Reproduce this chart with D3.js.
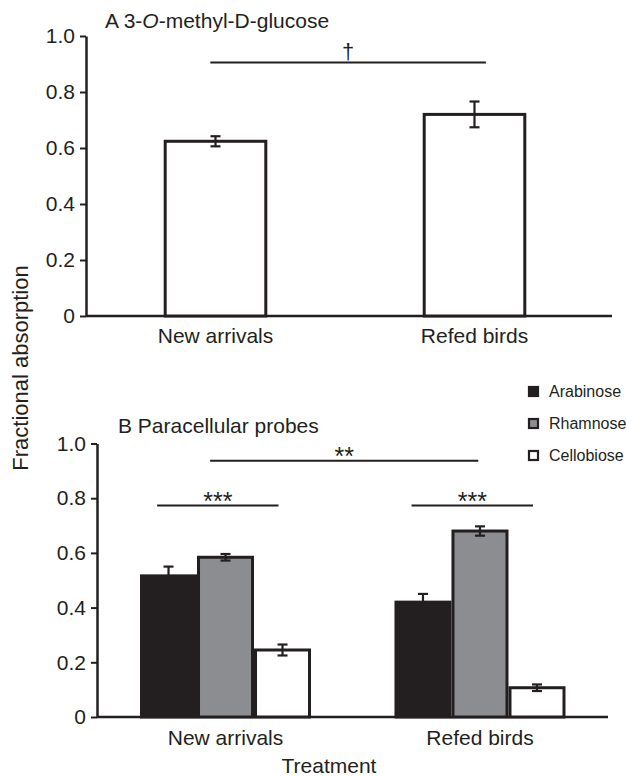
<!DOCTYPE html>
<html>
<head>
<meta charset="utf-8">
<script src="https://cdnjs.cloudflare.com/ajax/libs/d3/7.8.5/d3.min.js"></script>
<style>
    body { margin: 0; background: #fff; }
    svg { display: block; }
    text { font-family: Arial, "Liberation Sans", Helvetica, sans-serif; fill: #231f20; }
</style>
</head>
<body>
<svg id="chart" width="626" height="776"></svg>
<script>
var treatments = ["New arrivals", "Refed birds"];
var yTicks = [0, 0.2, 0.4, 0.6, 0.8, 1.0];

// panel A: 3-O-methyl-D-glucose
var glucoseMean = [0.624, 0.72];
var glucoseSE = [0.018, 0.046];

// panel B: paracellular probes
var probes = ["Arabinose", "Rhamnose", "Cellobiose"];
var probeFills = ["#231f20", "#8c8d90", "#ffffff"];
var arabinoseMean = [0.516, 0.42];
var arabinoseSE = [0.034, 0.03];
var rhamnoseMean = [0.584, 0.68];
var rhamnoseSE = [0.012, 0.017];
var cellobioseMean = [0.245, 0.107];
var cellobioseSE = [0.02, 0.012];

var INK = "#231f20";
var FS = 21;
var svg = d3.select("#chart");

var tickFormat = function (d) {
    return d === 0 ? "0" : d3.format(".1f")(d);
};

function drawYAxis(g, y) {
    var ax = g.append("g").call(d3.axisLeft(y).tickValues(yTicks).tickSize(6).tickSizeOuter(0).tickPadding(5).tickFormat(tickFormat));
    ax.select(".domain").attr("stroke", INK).attr("stroke-width", 2.5);
    ax.selectAll(".tick line").attr("stroke", INK).attr("stroke-width", 2);
    ax.selectAll(".tick text").attr("font-size", FS).style("fill", INK).attr("font-family", null);
    return ax;
}

function drawErrorBars(g, data, xFn, y, capHalf) {
    var eb = g.selectAll(null).data(data).enter().append("g").attr("class", "errbar");
    eb.append("line")
        .attr("x1", xFn).attr("x2", xFn)
        .attr("y1", function (d) { return y(d.mean + d.se); })
        .attr("y2", function (d) { return y(d.mean - d.se); })
        .attr("stroke", INK).attr("stroke-width", 2.2);
    [1, -1].forEach(function (s) {
        eb.append("line")
            .attr("x1", function (d, i) { return xFn(d, i) - capHalf; })
            .attr("x2", function (d, i) { return xFn(d, i) + capHalf; })
            .attr("y1", function (d) { return y(d.mean + s * d.se); })
            .attr("y2", function (d) { return y(d.mean + s * d.se); })
            .attr("stroke", INK).attr("stroke-width", 2.2);
    });
}

function drawSig(g, x1, x2, yy, label, size, dy) {
    g.append("line").attr("x1", x1).attr("x2", x2).attr("y1", yy).attr("y2", yy)
        .attr("stroke", INK).attr("stroke-width", 2);
    g.append("text").attr("x", (x1 + x2) / 2).attr("y", yy + dy).attr("text-anchor", "middle")
        .attr("font-size", size).text(label);
}

/* ---------- Panel A ---------- */
var gA = svg.append("g").attr("transform", "translate(86,0)");
var yA = d3.scaleLinear().domain([0, 1]).range([316, 36]);
var xA = d3.scaleBand().domain(treatments).range([0, 518]).paddingInner(0.6).paddingOuter(0.3);

var dataA = treatments.map(function (t, i) {
    return { cat: t, mean: glucoseMean[i], se: glucoseSE[i] };
});

gA.append("line").attr("x1", 0).attr("x2", 526).attr("y1", yA(0)).attr("y2", yA(0))
    .attr("stroke", INK).attr("stroke-width", 2.5);

gA.selectAll("rect.bar").data(dataA).enter().append("rect")
    .attr("class", "bar")
    .attr("x", function (d) { return xA(d.cat) + 1.5; })
    .attr("width", xA.bandwidth() - 3)
    .attr("y", function (d) { return yA(d.mean); })
    .attr("height", function (d) { return yA(0) - yA(d.mean); })
    .attr("fill", "#fff").attr("stroke", INK).attr("stroke-width", 3);

drawErrorBars(gA, dataA, function (d) { return xA(d.cat) + xA.bandwidth() / 2; }, yA, 5);
drawYAxis(gA, yA);

var xAx = gA.append("g").attr("transform", "translate(0," + yA(0) + ")")
    .call(d3.axisBottom(xA).tickSize(0).tickPadding(12));
xAx.select(".domain").remove();
xAx.selectAll(".tick text").attr("font-size", FS).style("fill", INK).attr("font-family", null);

drawSig(gA, xA(treatments[0]) + xA.bandwidth() * 0.45, xA(treatments[1]) + xA.bandwidth() * 0.61, yA(0.905), "\u2020", 22, -4);

var titleA = svg.append("text").attr("x", 105).attr("y", 28).attr("font-size", FS);
titleA.append("tspan").text("A 3-");
titleA.append("tspan").attr("font-style", "italic").text("O");
titleA.append("tspan").text("-methyl-D-glucose");

/* ---------- Panel B ---------- */
var gB = svg.append("g").attr("transform", "translate(97,0)");
var yB = d3.scaleLinear().domain([0, 1]).range([717, 443.5]);
var x0 = d3.scaleBand().domain(treatments).range([0, 511.5]).paddingInner(0.328).paddingOuter(0.169);
var x1 = d3.scaleBand().domain(probes).range([0, x0.bandwidth()]);
var color = d3.scaleOrdinal().domain(probes).range(probeFills);

var probeMeans = { Arabinose: arabinoseMean, Rhamnose: rhamnoseMean, Cellobiose: cellobioseMean };
var probeSEs = { Arabinose: arabinoseSE, Rhamnose: rhamnoseSE, Cellobiose: cellobioseSE };

var dataB = [];
treatments.forEach(function (t, i) {
    probes.forEach(function (p) {
        dataB.push({ cat: t, probe: p, mean: probeMeans[p][i], se: probeSEs[p][i] });
    });
});

gB.append("line").attr("x1", 0).attr("x2", 511).attr("y1", yB(0)).attr("y2", yB(0))
    .attr("stroke", INK).attr("stroke-width", 2.5);

gB.selectAll("rect.bar").data(dataB).enter().append("rect")
    .attr("class", "bar")
    .attr("x", function (d) { return x0(d.cat) + x1(d.probe) + 1.5; })
    .attr("width", x1.bandwidth() - 3)
    .attr("y", function (d) { return yB(d.mean); })
    .attr("height", function (d) { return yB(0) - yB(d.mean); })
    .attr("fill", function (d) { return color(d.probe); })
    .attr("stroke", INK).attr("stroke-width", 3);

drawErrorBars(gB, dataB, function (d) { return x0(d.cat) + x1(d.probe) + x1.bandwidth() / 2; }, yB, 5);
drawYAxis(gB, yB);

var xBx = gB.append("g").attr("transform", "translate(0," + yB(0) + ")")
    .call(d3.axisBottom(x0).tickSize(0).tickPadding(13));
xBx.select(".domain").remove();
xBx.selectAll(".tick text").attr("font-size", FS).style("fill", INK).attr("font-family", null);

var bw = x0.bandwidth();
drawSig(gB, x0(treatments[0]) + bw * 0.41, x0(treatments[1]) + bw * 0.49, yB(0.937), "**", 25, 4);
treatments.forEach(function (t) {
    drawSig(gB, x0(t) + bw * 0.1, x0(t) + bw * 0.81, yB(0.773), "***", 25, 4);
});

svg.append("text").attr("x", 118).attr("y", 433).attr("font-size", FS).text("B Paracellular probes");

// legend
var legend = svg.append("g").attr("transform", "translate(528,386)")
    .selectAll("g").data(probes).enter().append("g")
    .attr("transform", function (d, i) { return "translate(0," + i * 32 + ")"; });
legend.append("rect").attr("x", 1).attr("y", 1).attr("width", 9).attr("height", 9)
    .attr("fill", function (d) { return color(d); })
    .attr("stroke", INK).attr("stroke-width", 2.2);
legend.append("text").attr("x", 21).attr("y", 11).attr("font-size", 16).text(function (d) { return d; });

/* ---------- shared axis titles ---------- */
svg.append("text").attr("transform", "translate(28,368) rotate(-90)")
    .attr("text-anchor", "middle").attr("font-size", 22).text("Fractional absorption");
svg.append("text").attr("x", 329).attr("y", 773).attr("text-anchor", "middle")
    .attr("font-size", FS).text("Treatment");
</script>
</body>
</html>
